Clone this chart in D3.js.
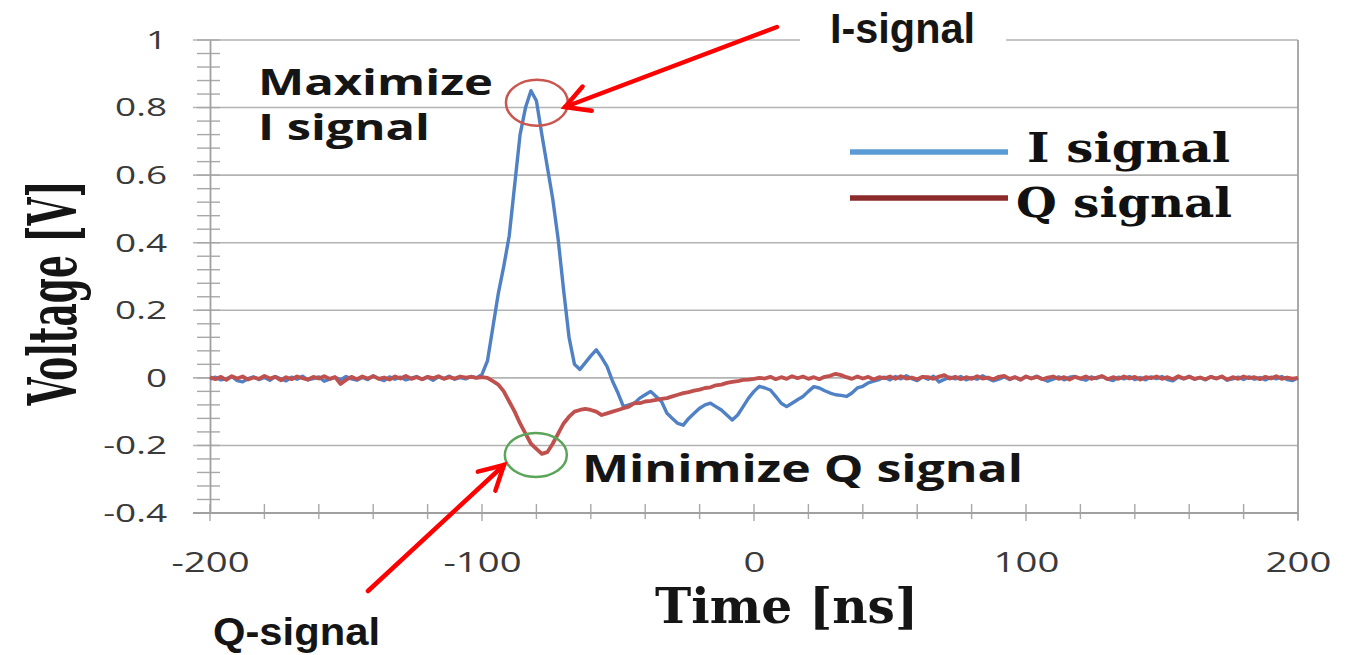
<!DOCTYPE html>
<html>
<head>
<meta charset="utf-8">
<script src="https://cdn.jsdelivr.net/npm/d3@7"></script>
<style>
  body { margin: 0; background: #fff; }
  svg { display: block; }
</style>
</head>
<body>
<div id="chart"></div>
<script>
// sample times [ns]
const timeNs = [
  -200, -198, -196, -194, -192, -190, -188, -186, -184, -182, -180, -178, -176, -174, -172, -170, -168, -166, -164, -162,
  -160, -158, -156, -154, -152, -150, -148, -146, -144, -142, -140, -138, -136, -134, -132, -130, -128, -126, -124, -122,
  -120, -118, -116, -114, -112, -110, -108, -106, -104, -102, -100, -98, -96, -94, -92, -90, -88, -86, -84, -82,
  -80, -78, -76, -74, -72, -70, -68, -66, -64, -62, -60, -58, -56, -54, -52, -50, -48, -46, -44, -42,
  -40, -38, -36, -34, -32, -30, -28, -26, -24, -22, -20, -18, -16, -14, -12, -10, -8, -6, -4, -2,
  0, 2, 4, 6, 8, 10, 12, 14, 16, 18, 20, 22, 24, 26, 28, 30, 32, 34, 36, 38,
  40, 42, 44, 46, 48, 50, 52, 54, 56, 58, 60, 62, 64, 66, 68, 70, 72, 74, 76, 78,
  80, 82, 84, 86, 88, 90, 92, 94, 96, 98, 100, 102, 104, 106, 108, 110, 112, 114, 116, 118,
  120, 122, 124, 126, 128, 130, 132, 134, 136, 138, 140, 142, 144, 146, 148, 150, 152, 154, 156, 158,
  160, 162, 164, 166, 168, 170, 172, 174, 176, 178, 180, 182, 184, 186, 188, 190, 192, 194, 196, 198,
  200
];

// I signal [V]
const iSignal = [
  // -200 .. -102
  -0.004, 0.002, -0.006, -0.003, 0.004, -0.008, -0.012, -0.002, 0.003, -0.005,
  0.001, -0.007, 0.004, -0.003, -0.009, 0.002, -0.004, 0.005, -0.006, -0.002,
  0.003, -0.010, -0.004, 0.002, -0.006, 0.004, -0.003, -0.007, 0.001, -0.005,
  0.006, -0.002, -0.008, 0.003, -0.004, 0.002, -0.006, -0.001, 0.004, -0.005,
  0.002, -0.007, 0.003, -0.002, 0.005, -0.004, 0.001, -0.003, 0.004, 0.000,
  // -100 .. 46
  0.010, 0.050, 0.150, 0.250, 0.330, 0.420, 0.570, 0.720, 0.800, 0.850,
  0.820, 0.720, 0.625, 0.530, 0.410, 0.260, 0.120, 0.040, 0.025, 0.045,
  0.065, 0.083, 0.060, 0.033, -0.010, -0.045, -0.085, -0.080, -0.075, -0.060,
  -0.050, -0.040, -0.055, -0.070, -0.105, -0.120, -0.135, -0.140, -0.120, -0.105,
  -0.090, -0.080, -0.075, -0.085, -0.095, -0.110, -0.125, -0.110, -0.085, -0.060,
  -0.040, -0.025, -0.030, -0.036, -0.055, -0.075, -0.085, -0.075, -0.065, -0.055,
  -0.040, -0.026, -0.030, -0.038, -0.045, -0.050, -0.052, -0.055, -0.045, -0.030,
  -0.025, -0.015, -0.010, -0.005,
  // 48 .. 200
  0.002, -0.006, 0.004, -0.003, 0.006, -0.002, -0.008, 0.003, -0.004, 0.005,
  -0.012, -0.005, 0.002, -0.003, 0.004, -0.006, 0.001, -0.004, 0.006, -0.002,
  -0.009, -0.004, 0.003, -0.005, 0.002, -0.006, 0.004, -0.002, 0.005, -0.003,
  -0.010, -0.004, 0.003, -0.006, 0.002, 0.004, -0.003, -0.007, 0.003, -0.002,
  0.005, -0.004, -0.008, 0.002, -0.003, 0.004, -0.005, 0.001, -0.006, 0.003,
  -0.002, 0.004, -0.005, -0.009, 0.002, -0.003, 0.005, -0.004, 0.001, -0.006,
  0.003, -0.002, 0.004, -0.007, -0.003, 0.002, -0.005, 0.003, -0.004, 0.001,
  -0.006, 0.002, -0.003, 0.004, -0.005, -0.008, 0.000
];

// Q signal [V]
const qSignal = [
  // -200 .. -98
  0.002, -0.004, 0.003, -0.006, 0.005, -0.002, 0.004, -0.005, 0.001, -0.003,
  0.006, -0.002, 0.003, -0.007, 0.002, -0.004, 0.004, -0.001, -0.005, 0.003,
  -0.002, 0.005, -0.003, 0.002, -0.018, -0.006, 0.003, -0.004, 0.004, -0.002,
  0.005, -0.003, 0.001, -0.005, 0.004, -0.002, 0.006, -0.003, 0.002, -0.004,
  0.003, -0.001, 0.005, -0.003, 0.002, -0.002, 0.004, 0.001, 0.003, 0.000,
  0.002, 0.000,
  // -96 .. 2
  -0.010, -0.020, -0.040, -0.070, -0.100, -0.135, -0.165, -0.195, -0.210, -0.225,
  -0.220, -0.195, -0.165, -0.135, -0.115, -0.100, -0.095, -0.092, -0.095, -0.100,
  -0.110, -0.105, -0.100, -0.095, -0.090, -0.085, -0.075, -0.075, -0.070, -0.068,
  -0.065, -0.062, -0.060, -0.055, -0.050, -0.045, -0.042, -0.038, -0.035, -0.030,
  -0.028, -0.022, -0.020, -0.015, -0.012, -0.010, -0.006, -0.005, -0.003, 0.000,
  // 4 .. 200
  -0.002, 0.003, -0.004, 0.002, -0.003, 0.005, -0.001, 0.004, -0.003, 0.002,
  -0.004, 0.003, 0.006, 0.012, 0.008, 0.002, -0.003, 0.004, -0.002, 0.003,
  -0.005, 0.002, -0.001, 0.004, -0.003, 0.005, -0.002, 0.001, -0.004, 0.003,
  0.002, -0.003, 0.004, 0.008, -0.002, 0.003, -0.004, 0.002, -0.003, 0.005,
  -0.002, 0.001, -0.004, 0.003, 0.006, -0.003, 0.002, -0.005, 0.004, -0.002,
  0.003, -0.004, 0.001, 0.004, -0.003, 0.002, -0.005, 0.003, -0.002, 0.004,
  -0.003, 0.001, 0.005, -0.004, 0.002, -0.003, 0.004, -0.002, 0.003, -0.005,
  0.002, -0.001, 0.004, -0.003, 0.002, -0.004, 0.005, -0.002, 0.003, -0.003,
  0.001, -0.004, 0.003, -0.002, 0.004, -0.005, 0.002, -0.003, 0.004, -0.001,
  0.002, -0.004, 0.003, -0.002, 0.005, -0.003, 0.001, -0.002, 0.000
];

const yTickValues = [-0.4, -0.2, 0, 0.2, 0.4, 0.6, 0.8, 1];
const yTickLabels = ["-0.4", "-0.2", "0", "0.2", "0.4", "0.6", "0.8", "1"];
const xTickValues = [-200, -100, 0, 100, 200];
const xTickLabels = ["-200", "-100", "0", "100", "200"];
const seriesNames = ["I signal", "Q signal"];

let width = 1352;
let height = 655;

let svg = d3.select("#chart")
    .append("svg")
    .attr("width", width)
    .attr("height", height)
    .attr("viewBox", "0 0 " + width + " " + height);

let xScale = d3.scaleLinear().domain([-200, 200]).range([210, 1298]);
let yScale = d3.scaleLinear().domain([-0.4, 1]).range([513, 40]);

const sansFont = "'Open Sans', 'DejaVu Sans', sans-serif";
const serifFont = "'DejaVu Serif', 'Liberation Serif', serif";
const arialFont = "'Liberation Sans', Arial, sans-serif";
const gridColor = "#b3b3b3";

// the source picture is stretched sideways, so the text is widened too
function stretch(sel, factor) {
    sel.each(function () {
        let w = this.getComputedTextLength();
        d3.select(this)
            .attr("textLength", w * factor)
            .attr("lengthAdjust", "spacingAndGlyphs");
    });
}

// horizontal gridlines
svg.append("g")
    .selectAll("line")
    .data(yTickValues.filter(d => d > -0.4))
    .enter()
    .append("line")
    .attr("x1", 193)
    .attr("x2", xScale(200))
    .attr("y1", d => yScale(d))
    .attr("y2", d => yScale(d))
    .attr("stroke", gridColor)
    .attr("stroke-width", 1.6);

// right border
svg.append("line")
    .attr("x1", xScale(200)).attr("x2", xScale(200))
    .attr("y1", yScale(1)).attr("y2", yScale(-0.4) + 7)
    .attr("stroke", "#a0a0a0")
    .attr("stroke-width", 1.8);

// y minor ticks
let yMinor = d3.range(0, 36).map(i => -0.4 + i * 0.04);
svg.append("g")
    .selectAll("line")
    .data(yMinor)
    .enter()
    .append("line")
    .attr("x1", 197)
    .attr("x2", 220)
    .attr("y1", d => yScale(d))
    .attr("y2", d => yScale(d))
    .attr("stroke", "#a8a8a8")
    .attr("stroke-width", 1.4);

// x ticks every 20 ns
let xMinor = d3.range(0, 21).map(i => -200 + i * 20);
svg.append("g")
    .selectAll("line")
    .data(xMinor)
    .enter()
    .append("line")
    .attr("x1", d => xScale(d))
    .attr("x2", d => xScale(d))
    .attr("y1", 504)
    .attr("y2", d => d % 100 === 0 ? 521 : 519)
    .attr("stroke", "#a8a8a8")
    .attr("stroke-width", 1.4);

// y-axis
let yAxis = d3.axisLeft(yScale)
    .tickValues(yTickValues)
    .tickFormat((d, i) => yTickLabels[i])
    .tickSize(0)
    .tickPadding(43);

let yAxisG = svg.append("g")
    .attr("transform", "translate(" + xScale(-200) + ",0)")
    .call(yAxis);
yAxisG.select(".domain").attr("stroke", "#a0a0a0").attr("stroke-width", 1.8);
yAxisG.selectAll("text")
    .attr("font-family", sansFont)
    .attr("font-size", 26)
    .attr("fill", "#3a3a3a")
    .call(stretch, 1.42);

// x-axis
let xAxis = d3.axisBottom(xScale)
    .tickValues(xTickValues)
    .tickFormat((d, i) => xTickLabels[i])
    .tickSize(0)
    .tickPadding(40);

let xAxisG = svg.append("g")
    .attr("transform", "translate(0," + yScale(-0.4) + ")")
    .call(xAxis);
xAxisG.select(".domain").attr("stroke", "none");
xAxisG.selectAll("text")
    .attr("font-family", sansFont)
    .attr("font-size", 27)
    .attr("fill", "#3a3a3a")
    .call(stretch, 1.42);

svg.append("line")
    .attr("x1", 193).attr("x2", xScale(200))
    .attr("y1", yScale(-0.4)).attr("y2", yScale(-0.4))
    .attr("stroke", "#a0a0a0")
    .attr("stroke-width", 1.8);

// white box behind the I-signal label cuts the top gridline
svg.append("rect")
    .attr("x", 800).attr("y", 0)
    .attr("width", 206).attr("height", 55)
    .attr("fill", "#fff");

// axis titles
svg.append("text")
    .attr("transform", "translate(76,293) scale(1.55,1) rotate(-90)")
    .attr("text-anchor", "middle")
    .attr("font-family", serifFont)
    .attr("font-weight", "bold")
    .attr("font-size", 44)
    .attr("fill", "#151515")
    .attr("textLength", 225)
    .attr("lengthAdjust", "spacingAndGlyphs")
    .text("Voltage [V]");

svg.append("text")
    .attr("x", 655)
    .attr("y", 623)
    .attr("font-family", serifFont)
    .attr("font-weight", "bold")
    .attr("font-size", 49)
    .attr("fill", "#151515")
    .attr("textLength", 263)
    .attr("lengthAdjust", "spacingAndGlyphs")
    .text("Time [ns]");

// lines
let line = d3.line()
    .x((d, i) => xScale(timeNs[i]))
    .y(d => yScale(d));

svg.append("path")
    .attr("d", line(iSignal))
    .attr("fill", "none")
    .attr("stroke", "#4f81c4")
    .attr("stroke-width", 3.4)
    .attr("stroke-linejoin", "round");

svg.append("path")
    .attr("d", line(qSignal))
    .attr("fill", "none")
    .attr("stroke", "#c0504d")
    .attr("stroke-width", 3.8)
    .attr("stroke-linejoin", "round");

// legend
let legendColors = ["#5b9bd5", "#8b2b2b"];
let legendY = [152, 198];
let legendTextX = [1027, 1016];
let legendTextY = [162, 217];
let legendTextLen = [203, 216];

seriesNames.forEach((name, i) => {
    svg.append("line")
        .attr("x1", 850).attr("x2", 1008)
        .attr("y1", legendY[i]).attr("y2", legendY[i])
        .attr("stroke", legendColors[i])
        .attr("stroke-width", 5.5);
    svg.append("text")
        .attr("x", legendTextX[i])
        .attr("y", legendTextY[i])
        .attr("font-family", serifFont)
        .attr("font-weight", "bold")
        .attr("font-size", 41)
        .attr("fill", "#111")
        .attr("textLength", legendTextLen[i])
        .attr("lengthAdjust", "spacingAndGlyphs")
        .text(name);
});

// annotations
let iPeak = d3.maxIndex(iSignal);
let qMin = d3.minIndex(qSignal);

svg.append("ellipse")
    .attr("cx", xScale(timeNs[iPeak]) + 6)
    .attr("cy", yScale(iSignal[iPeak]) + 12)
    .attr("rx", 31).attr("ry", 23)
    .attr("fill", "none")
    .attr("stroke", "#c9564f")
    .attr("stroke-width", 2.5);

svg.append("ellipse")
    .attr("cx", xScale(timeNs[qMin]) - 6)
    .attr("cy", yScale(qSignal[qMin]) + 1)
    .attr("rx", 31).attr("ry", 22)
    .attr("fill", "none")
    .attr("stroke", "#5aa55a")
    .attr("stroke-width", 2.5);

function addText(str, x, y, font, size, len, weight) {
    svg.append("text")
        .attr("x", x).attr("y", y)
        .attr("font-family", font)
        .attr("font-weight", weight || "bold")
        .attr("font-size", size)
        .attr("fill", "#151515")
        .attr("textLength", len)
        .attr("lengthAdjust", "spacingAndGlyphs")
        .text(str);
}

addText("Maximize", 258, 95, sansFont, 35, 235);
addText("I signal", 258, 140, sansFont, 35, 172);
addText("Minimize Q signal", 582, 482, sansFont, 37, 441);
addText("I-signal", 830, 43, arialFont, 42, 145);
addText("Q-signal", 213, 645, arialFont, 39, 167);

function arrow(x1, y1, x2, y2) {
    let ang = Math.atan2(y1 - y2, x1 - x2);
    let len = 27;
    let spread = 0.5;
    let g = svg.append("g")
        .attr("stroke", "#ff0000")
        .attr("stroke-width", 4.5)
        .attr("stroke-linecap", "round")
        .attr("fill", "none");
    g.append("line").attr("x1", x1).attr("y1", y1).attr("x2", x2).attr("y2", y2);
    g.append("polyline")
        .attr("points", [
            [x2 + len * Math.cos(ang + spread), y2 + len * Math.sin(ang + spread)],
            [x2, y2],
            [x2 + len * Math.cos(ang - spread), y2 + len * Math.sin(ang - spread)]
        ].map(p => p.join(",")).join(" "));
}

arrow(777, 27, 565, 107);
arrow(368, 591, 504, 465);
</script>
</body>
</html>
